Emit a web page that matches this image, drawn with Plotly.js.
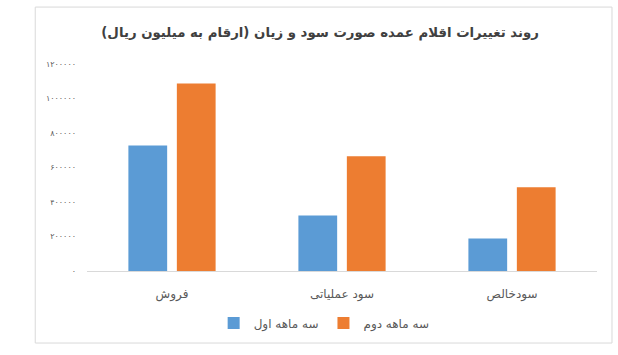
<!DOCTYPE html>
<html>
<head>
<meta charset="utf-8">
<script src="https://cdn.plot.ly/plotly-3.0.1.min.js"></script>
<style>html,body{margin:0;padding:0;background:#fff;}#chart{width:618px;height:355px;}</style>
</head>
<body>
<div id="chart"></div>
<script>
const categories = ['فروش', 'سود عملیاتی', 'سودخالص'];
const seriesNames = ['سه ماهه اول', 'سه ماهه دوم'];
const firstQuarter = [728000, 322000, 188000];
const secondQuarter = [1087000, 665000, 486000];
const tickValues = [0, 200000, 400000, 600000, 800000, 1000000, 1200000];
const tickLabels = ['۰', '۲۰۰۰۰۰', '۴۰۰۰۰۰', '۶۰۰۰۰۰', '۸۰۰۰۰۰', '۱۰۰۰۰۰۰', '۱۲۰۰۰۰۰'];

const FONT = 'Tahoma, "DejaVu Sans", "Noto Sans", sans-serif';
const traces = [
  {type: 'bar', name: seriesNames[0], x: categories, y: firstQuarter, marker: {color: '#5b9bd5'}, hoverinfo: 'none'},
  {type: 'bar', name: seriesNames[1], x: categories, y: secondQuarter, marker: {color: '#ed7d31'}, hoverinfo: 'none'}
];
const layout = {
  width: 618, height: 355,
  margin: {l: 87, r: 21, t: 64, b: 84},
  paper_bgcolor: '#ffffff', plot_bgcolor: '#ffffff',
  font: {family: FONT, color: '#595959'},
  title: {text: '<b>روند تغییرات اقلام عمده صورت سود و زیان (ارقام به میلیون ریال)</b>', x: 0.518, xref: 'container', xanchor: 'center', y: 0.91, yanchor: 'middle', font: {size: 13.3, color: '#404040', family: FONT}},
  bargap: 0.43, bargroupgap: 0.2, barmode: 'group',
  xaxis: {showgrid: false, showline: true, linecolor: '#d9d9d9', linewidth: 1, ticks: '', ticklabelstandoff: 12, tickfont: {size: 12, color: '#595959'}, zeroline: false, fixedrange: true},
  yaxis: {range: [0, 1200000], tickvals: tickValues, ticktext: tickLabels, showgrid: false, showline: false, zeroline: false, ticks: '', ticklabelstandoff: 10, tickfont: {size: 8, color: '#595959'}, fixedrange: true},
  showlegend: true,
  legend: {orientation: 'h', x: 0.465, xanchor: 'center', y: -0.251, yanchor: 'middle', font: {size: 12, color: '#595959'}, itemwidth: 30, traceorder: 'normal'},
  shapes: [{type: 'rect', xref: 'paper', yref: 'paper', x0: -0.1015, x1: 1.0294, y0: -0.348, y1: 1.275, line: {color: '#d9d9d9', width: 1}, fillcolor: 'rgba(0,0,0,0)', layer: 'below'}]
};
Plotly.newPlot('chart', traces, layout, {displayModeBar: false, staticPlot: true});
</script>
</body>
</html>
